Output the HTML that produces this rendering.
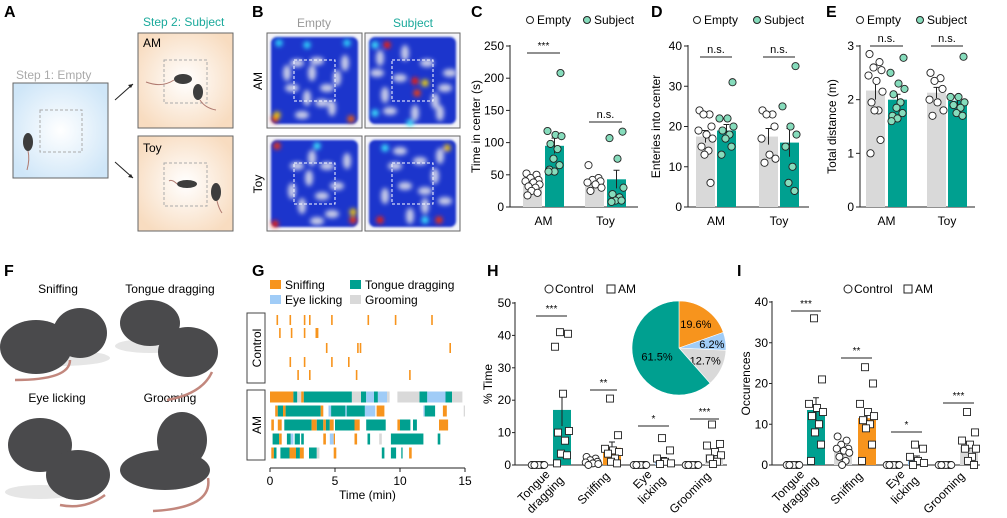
<!DOCTYPE html>
<html><head><meta charset="utf-8"><style>
body{margin:0;background:#fff}
svg{display:block;font-family:"Liberation Sans",Arial,sans-serif}
</style></head><body>
<svg id="fig" width="1007" height="518" viewBox="0 0 1007 518" xmlns="http://www.w3.org/2000/svg">
<defs>
<radialGradient id="gBlue" cx="50%" cy="50%" r="60%"><stop offset="0" stop-color="#ffffff"/><stop offset="1" stop-color="#cfe6f8"/></radialGradient>
<radialGradient id="gBeige" cx="50%" cy="50%" r="60%"><stop offset="0" stop-color="#ffffff"/><stop offset="1" stop-color="#f8dcc0"/></radialGradient>
<filter id="blur3" x="-20%" y="-20%" width="140%" height="140%"><feGaussianBlur stdDeviation="2.5"/></filter>
<filter id="blur1"><feGaussianBlur stdDeviation="1"/></filter>
</defs>
<g font-weight="bold" font-size="16" fill="#000">
<text x="4" y="17">A</text>
<text x="252" y="17">B</text>
<text x="471" y="17">C</text>
<text x="651" y="17">D</text>
<text x="826" y="17">E</text>
<text x="4" y="276">F</text>
<text x="252" y="276">G</text>
<text x="487" y="276">H</text>
<text x="737" y="276">I</text>
</g>
<!-- Panel A -->
<g>
<text x="16" y="79" font-size="12" fill="#aaa">Step 1: Empty</text>
<rect x="13" y="83" width="95" height="95" fill="url(#gBlue)" stroke="#666" stroke-width="1"/>
<rect x="40" y="110" width="42" height="42" fill="none" stroke="#aaa" stroke-dasharray="3,2"/>
<ellipse cx="28" cy="142" rx="5" ry="9" fill="#3d3d3d"/>
<path d="M28 151 q2 8 -1 19" stroke="#b07a70" fill="none" stroke-width="1"/>
<text x="143" y="26" font-size="12" fill="#1aa99b">Step 2: Subject</text>
<rect x="138" y="33" width="95" height="95" fill="url(#gBeige)" stroke="#666"/>
<rect x="164" y="60" width="43" height="43" fill="none" stroke="#aaa" stroke-dasharray="3,2"/>
<text x="143" y="47" font-size="12">AM</text>
<ellipse cx="183" cy="79" rx="9" ry="5" fill="#3d3d3d"/><ellipse cx="198" cy="92" rx="5" ry="8" fill="#3d3d3d"/>
<path d="M174 80 q-12 8 -28 2 M200 100 q5 8 16 10" stroke="#b07a70" fill="none"/>
<rect x="138" y="136" width="95" height="95" fill="url(#gBeige)" stroke="#666"/>
<rect x="164" y="163" width="43" height="43" fill="none" stroke="#aaa" stroke-dasharray="3,2"/>
<text x="143" y="152" font-size="12">Toy</text>
<ellipse cx="187" cy="184" rx="10" ry="4" fill="#3d3d3d"/><ellipse cx="216" cy="192" rx="5" ry="9" fill="#3d3d3d"/>
<path d="M177 184 q-5 -5 -8 -3 M217 201 q2 8 5 12" stroke="#b07a70" fill="none"/>
<path d="M115 100 L133 84" stroke="#222"/><path d="M133 84 l-5 1 l3 3z" fill="#222"/>
<path d="M115 162 L133 178" stroke="#222"/><path d="M133 178 l-5 -1 l3 -3z" fill="#222"/>
</g>
<!-- Panel B -->
<g>
<text x="314" y="27" font-size="12" fill="#999" text-anchor="middle">Empty</text>
<text x="413" y="27" font-size="12" fill="#1aa99b" text-anchor="middle">Subject</text>
<text transform="translate(262,81) rotate(-90)" font-size="12" text-anchor="middle">AM</text>
<text transform="translate(262,184) rotate(-90)" font-size="12" text-anchor="middle">Toy</text>
<g id="heatmaps"></g>
</g>
<!-- Panel F -->
<g font-size="12">
<text x="58" y="293" text-anchor="middle">Sniffing</text>
<text x="170" y="293" text-anchor="middle">Tongue dragging</text>
<text x="57" y="402" text-anchor="middle">Eye licking</text>
<text x="170" y="402" text-anchor="middle">Grooming</text>
<g fill="#e6e6e6"><ellipse cx="60" cy="358" rx="50" ry="8"/><ellipse cx="150" cy="346" rx="35" ry="7"/><ellipse cx="40" cy="492" rx="35" ry="7"/></g>
<g fill="#4a4a4c">
<ellipse cx="80" cy="333" rx="27" ry="25"/>
<ellipse cx="36" cy="347" rx="36" ry="27"/>
<ellipse cx="150" cy="323" rx="30" ry="23"/>
<ellipse cx="188" cy="352" rx="30" ry="25"/>
<ellipse cx="40" cy="445" rx="32" ry="27"/>
<ellipse cx="78" cy="475" rx="32" ry="25"/>
<ellipse cx="182" cy="440" rx="25" ry="28"/>
<ellipse cx="165" cy="470" rx="45" ry="20"/>
</g>
<g stroke="#c2877d" stroke-width="2.5" fill="none">
<path d="M70 360 q0 20 -55 20"/><path d="M212 372 q-10 22 -45 28"/><path d="M105 495 q-20 15 -45 10"/><path d="M208 478 q5 30 -55 33"/>
</g>
</g>
<!-- Charts -->
<g id="charts"></g>
</svg>
<script>
const NS="http://www.w3.org/2000/svg";
const fig=document.getElementById('charts');
function mk(tag,attrs,parent,text){const e=document.createElementNS(NS,tag);for(const k in attrs)e.setAttribute(k,attrs[k]);if(text!==undefined)e.textContent=text;(parent||fig).appendChild(e);return e;}

// ---------- DATA ----------
const cGroups=["AM","Toy"];
const cEmptyMean=[38,40];const cEmptySem=[3,4];
const cSubjMean=[95,43];const cSubjSem=[12,14];
const cEmptyPts=[[52,50,45,42,40,38,35,32,30,25,22,18],[65,45,42,40,38,35,30,25]];
const cSubjPts=[[208,118,112,110,98,90,75,65,58,55,55],[117,107,75,30,20,15,10,10,8]];
const cTicks=[0,50,100,150,200,250];
const dEmptyMean=[17.5,17.5];const dEmptySem=[1.5,2];
const dSubjMean=[19,16];const dSubjSem=[1.5,3.5];
const dEmptyPts=[[24,23,23,20,19,18,17,15,14,13,6],[24,23,23,20,17,13,12,11]];
const dSubjPts=[[31,22,22,20,19,18,17,15,13],[35,25,20,18,15,10,6,4]];
const dTicks=[0,10,20,30,40];
const eEmptyMean=[2.17,2.13];const eEmptySem=[0.17,0.1];
const eSubjMean=[2.0,1.98];const eSubjSem=[0.1,0.1];
const eEmptyPts=[[2.85,2.7,2.6,2.55,2.45,2.35,2.15,1.95,1.8,1.8,1.25,1.0],[2.5,2.4,2.35,2.2,2.0,1.95,1.8,1.7]];
const eSubjPts=[[2.78,2.5,2.3,2.2,2.1,1.95,1.85,1.75,1.7,1.65,1.6],[2.8,2.05,2.05,1.95,1.9,1.85,1.75,1.7]];
const eTicks=[0,1,2,3];
const behaviors=["Tongue dragging","Sniffing","Eye licking","Grooming"];
const hCtrlMean=[0,1,0,0];
const hAmMean=[17,5.3,1.5,3.4];const hAmSem=[5,1.8,0.8,1.2];
const hCtrlPts=[[0,0,0,0,0,0,0,0],[2.5,2,1.5,1,0.8,0.5,0.3,0],[0,0,0,0,0,0,0,0],[0,0,0,0,0,0,0,0]];
const hAmPts=[[41,40.5,36.5,22,10.5,10,7.5,3.5,3,0.5],[20.5,9.2,5,4.5,4,3.5,2,1,0.5],[8.3,4.5,2,1,0.5,0.3],[12.5,6.5,6,4,3,2,1,0.3]];
const hTicks=[0,10,20,30,40,50];
const iCtrlMean=[0,4,0,0];
const iAmMean=[13.5,11.5,1.5,4.5];const iAmSem=[3,2,0.7,1.2];
const iCtrlPts=[[0,0,0,0,0,0,0,0],[7,6,5,4,4,3.5,3,2,1,0],[0,0,0,0,0,0,0,0],[0,0,0,0,0,0,0,0]];
const iAmPts=[[36,21,15,14,13,12,10,8,5,1],[24,20,15,13,12,11,10,9,5,1],[5,4,2,1,0.5,0],[13,8,6,5,4,4,2,1,0]];
const iTicks=[0,10,20,30,40];
const pieLabels=["Sniffing","Eye licking","Grooming","Tongue dragging"];
const pieValues=[19.6,6.2,12.7,61.5];
const gTicks=[0,5,10,15];
const ctrlRows=[[0.5,1.5,2.6,3.0,4.7,7.5,9.6,12.4],[0.7,1.6,2.6,3.5,3.6],[4.3,6.7,6.9,13.8],[1.5,2.6,4.7,6.0],[2.1,3.0,6.6,10.7]];
const amRows=[
[[0,1.8,0],[1.8,2.1,1],[2.1,2.4,3],[2.4,2.6,0],[2.6,6.3,1],[6.3,7.0,3],[7.0,7.4,1],[7.4,8.0,2],[8.0,8.3,1],[8.3,9.0,2],[9.0,9.2,3],[9.8,11.5,3],[11.5,12.1,1],[12.1,13.5,2],[13.5,14.0,1],[14.0,14.8,3]],
[[0.4,0.6,0],[0.6,1.0,1],[1.0,1.2,0],[1.2,3.9,1],[3.9,4.1,0],[4.5,4.7,2],[4.7,5.8,1],[5.8,5.9,2],[5.9,7.3,1],[7.3,8.1,2],[8.2,8.8,0],[11.8,11.9,2],[11.9,12.7,1],[13.3,13.6,0],[14.9,15,3]],
[[0.1,0.3,0],[0.6,0.9,0],[1.1,3.2,1],[3.2,3.6,0],[3.6,4.1,1],[4.1,4.3,0],[4.3,4.6,1],[4.6,4.9,0],[5.0,6.5,1],[6.5,6.9,0],[7.4,8.9,1],[9.8,10.0,0],[10.0,10.8,1],[11.0,11.3,1],[13.0,13.7,0]],
[[0.2,0.7,1],[0.7,0.9,0],[1.3,1.6,1],[1.6,1.8,2],[1.9,2.3,1],[2.4,2.6,1],[4.1,4.3,0],[4.6,4.9,2],[4.9,5.0,0],[6.5,6.7,0],[7.5,7.7,1],[8.4,8.6,3],[9.3,11.8,1],[12.9,13.1,1]],
[[0.1,0.3,0],[0.3,0.5,1],[0.8,1.5,1],[1.5,2.0,0],[2.0,2.3,1],[2.3,2.6,0],[3.0,3.6,1],[3.6,3.8,3],[4.9,5.1,0],[8.6,8.8,1],[9.3,9.7,1],[10.1,10.2,1],[10.7,10.9,0]]
];

const TEAL="#00a090",LGREEN="#86dcbc",ORANGE="#f7941d",LBLUE="#a0ccf7",GRAY="#d9d9d9";
const behavColors=[TEAL,ORANGE,LBLUE,GRAY];
const typeColors=[ORANGE,TEAL,LBLUE,GRAY];
const jit=[-6,4,-2,6,-7,1,7,-4,3,-1,5,-5,0];

function linY(y0,y1,vmax){return v=>y0-(v/vmax)*(y0-y1);}

function barPanel(o){
  const g=mk('g',{},fig);
  
  
  const Y=linY(o.y0,o.y1,o.max);
  mk('line',{x1:o.ax,y1:o.y1-1,x2:o.ax,y2:o.y0,stroke:'#222','stroke-width':1},g);
  mk('line',{x1:o.ax,y1:o.y0,x2:o.axEnd,y2:o.y0,stroke:'#222','stroke-width':1},g);
  o.ticks.forEach(t=>{
    mk('line',{x1:o.ax-4,y1:Y(t),x2:o.ax,y2:Y(t),stroke:'#222'},g);
    const tl=mk('text',{x:o.ax-6,y:Y(t)+4,'text-anchor':'end','font-size':12},g,String(t));
    
    
  });
  const yt=mk('text',{transform:`translate(${o.titleX},${(o.y0+o.y1)/2}) rotate(-90)`,'text-anchor':'middle','font-size':12},g,o.title);
  
  
  o.groups.forEach((gr,i)=>{
    const xe=o.bx[i][0],xs=o.bx[i][1],w=o.bw;
    const b1=mk('rect',{x:xe,y:Y(o.em[i]),width:w,height:o.y0-Y(o.em[i]),fill:GRAY},g);
    
    
    const b2=mk('rect',{x:xs,y:Y(o.sm[i]),width:w,height:o.y0-Y(o.sm[i]),fill:TEAL},g);
    
    
    [[xe,o.em[i],o.es[i]],[xs,o.sm[i],o.ss[i]]].forEach(([x,m,s])=>{
      const cx=x+w/2;
      mk('path',{d:`M${cx} ${Y(m-s)}V${Y(m+s)}M${cx-3} ${Y(m+s)}H${cx+3}`,stroke:'#222',fill:'none'},g);
    });
    o.ep[i].forEach((v,k)=>{const c=mk('circle',{cx:xe+w/2+jit[k%13],cy:Y(v),r:3.6,fill:'#fff',stroke:'#222','stroke-width':0.9},g);
      });
    o.sp[i].forEach((v,k)=>{const c=mk('circle',{cx:xs+w/2+jit[(k+3)%13],cy:Y(v),r:3.6,fill:LGREEN,stroke:'#222','stroke-width':0.9},g);
      });
    const xl=mk('text',{x:(xe+xs+w)/2,y:o.y0+18,'text-anchor':'middle','font-size':12},g,gr);
    
    
    const sig=o.sig[i];
    mk('line',{x1:xe+4,y1:sig[1],x2:xs+w-4,y2:sig[1],stroke:'#222'},g);
    const st=mk('text',{x:(xe+xs+w)/2,y:sig[1]-4,'text-anchor':'middle','font-size':sig[0]==='n.s.'?11:10},g,sig[0]);
    
    
  });
  const lc1=mk('circle',{cx:o.leg[0],cy:20,r:3.5,fill:'#fff',stroke:'#222'},g);
  
  const lt1=mk('text',{x:o.leg[0]+7,y:24,'font-size':12},g,'Empty');
  
  const lc2=mk('circle',{cx:o.leg[1],cy:20,r:3.5,fill:LGREEN,stroke:'#222'},g);
  
  const lt2=mk('text',{x:o.leg[1]+7,y:24,'font-size':12},g,'Subject');
  
}
barPanel({name:'panel-c-time-in-center',ax:510,axEnd:638,y0:207,y1:46,max:250,ticks:cTicks,title:'Time in center (s)',titleX:480,
  groups:cGroups,bx:[[523,545],[585,607]],bw:19,em:cEmptyMean,es:cEmptySem,sm:cSubjMean,ss:cSubjSem,ep:cEmptyPts,sp:cSubjPts,
  sig:[['***',53],['n.s.',122]],leg:[530,587]});
barPanel({name:'panel-d-entries',ax:688,axEnd:809,y0:207,y1:46,max:40,ticks:dTicks,title:'Enteries into center',titleX:660,
  groups:cGroups,bx:[[696,717],[759,780]],bw:19,em:dEmptyMean,es:dEmptySem,sm:dSubjMean,ss:dSubjSem,ep:dEmptyPts,sp:dSubjPts,
  sig:[['n.s.',57],['n.s.',57]],leg:[697,757]});
barPanel({name:'panel-e-distance',ax:860,axEnd:975,y0:207,y1:46,max:3,ticks:eTicks,title:'Total distance (m)',titleX:836,
  groups:cGroups,bx:[[866,888],[927,948]],bw:19,em:eEmptyMean,es:eEmptySem,sm:eSubjMean,ss:eSubjSem,ep:eEmptyPts,sp:eSubjPts,
  sig:[['n.s.',46],['n.s.',46]],leg:[860,920]});

function behavPanel(o){
  const g=mk('g',{},fig);
  
  
  const Y=linY(o.y0,o.y1,o.max);
  mk('line',{x1:o.ax,y1:o.y1-1,x2:o.ax,y2:o.y0,stroke:'#222'},g);
  mk('line',{x1:o.ax,y1:o.y0,x2:o.axEnd,y2:o.y0,stroke:'#222'},g);
  o.ticks.forEach(t=>{
    mk('line',{x1:o.ax-3,y1:Y(t),x2:o.ax,y2:Y(t),stroke:'#222'},g);
    const tl=mk('text',{x:o.ax-4,y:Y(t)+4,'text-anchor':'end','font-size':12},g,String(t));
    
    
  });
  const yt=mk('text',{transform:`translate(${o.titleX},${(o.y0+o.y1)/2}) rotate(-90)`,'text-anchor':'middle','font-size':12},g,o.title);
  
  
  behaviors.forEach((b,i)=>{
    const cx=o.cx[i],bx=o.bx[i],w=o.bw;
    if(o.cm[i]>0){const cb=mk('rect',{x:cx-9,y:Y(o.cm[i]),width:18,height:o.y0-Y(o.cm[i]),fill:GRAY},g);
      }
    const ab=mk('rect',{x:bx,y:Y(o.am[i]),width:w,height:o.y0-Y(o.am[i]),fill:behavColors[i]},g);
    
    
    const m=o.am[i],s=o.as[i],mx=bx+w/2;
    mk('path',{d:`M${mx} ${Y(Math.max(0,m-s))}V${Y(m+s)}M${mx-3} ${Y(m+s)}H${mx+3}`,stroke:'#222',fill:'none'},g);
    o.cp[i].forEach((v,k)=>{const c=mk('circle',{cx:cx+jit[k%13]*0.9,cy:Y(v),r:3.5,fill:'#fff',stroke:'#222','stroke-width':0.9},g);
      });
    o.ap[i].forEach((v,k)=>{const c=mk('rect',{x:mx+jit[(k+2)%13]-3.5,y:Y(v)-3.5,width:7,height:7,fill:'#fff',stroke:'#222','stroke-width':0.9},g);
      });
    const sig=o.sig[i];
    mk('line',{x1:cx-2,y1:sig[1],x2:bx+w-4,y2:sig[1],stroke:'#222'},g);
    const st=mk('text',{x:(cx+bx+w)/2-3,y:sig[1]-4,'text-anchor':'middle','font-size':10},g,sig[0]);
    
    
    const parts=b==='Tongue dragging'?['Tongue','dragging']:b==='Eye licking'?['Eye','licking']:[b];
    const lx=(cx+bx+w)/2+4;
    parts.forEach((p,j)=>{
      const off=parts.length===2?(j===0?-8:6):0;
      const t=mk('text',{transform:`translate(${lx+off},${o.y0+12+(parts.length===2?(j===0?-2:4):0)}) rotate(-45)`,'text-anchor':'end','font-size':12},g,p);
      
      
    });
  });
  const lc=mk('circle',{cx:o.leg[0],cy:289,r:4,fill:'#fff',stroke:'#222'},g);
  
  const lt=mk('text',{x:o.leg[0]+6,y:293,'font-size':12},g,'Control');
  
  const ls=mk('rect',{x:o.leg[1]-4,y:285,width:8,height:8,fill:'#fff',stroke:'#222'},g);
  
  const lt2=mk('text',{x:o.leg[1]+7,y:293,'font-size':12},g,'AM');
  
}
behavPanel({name:'panel-h-percent-time',ax:515,axEnd:727,y0:465,y1:303,max:50,ticks:hTicks,title:'% Time',titleX:492,
  cx:[538,592,640,692],bx:[553,603,655,705],bw:18,cm:hCtrlMean,am:hAmMean,as:hAmSem,cp:hCtrlPts,ap:hAmPts,
  sig:[['***',316],['**',390],['*',426],['***',419]],leg:[549,611]});
behavPanel({name:'panel-i-occurences',ax:772,axEnd:980,y0:465,y1:302,max:40,ticks:iTicks,title:'Occurences',titleX:750,
  cx:[793,843,893,945],bx:[807,858,908,960],bw:18,cm:iCtrlMean,am:iAmMean,as:iAmSem,cp:iCtrlPts,ap:iAmPts,
  sig:[['***',311],['**',358],['*',432],['***',403]],leg:[848,908]});

(function(){
  const g=mk('g',{},fig);
  
  
  const cx=679,cy=348,r=47;const tot=pieValues.reduce((a,b)=>a+b,0);
  const cols=[ORANGE,LBLUE,GRAY,TEAL];
  let a0=-Math.PI/2;
  pieValues.forEach((v,i)=>{
    const a1=a0+v/tot*2*Math.PI;const large=(a1-a0)>Math.PI?1:0;
    const p=mk('path',{d:`M${cx} ${cy}L${cx+r*Math.cos(a0)} ${cy+r*Math.sin(a0)}A${r} ${r} 0 ${large} 1 ${cx+r*Math.cos(a1)} ${cy+r*Math.sin(a1)}Z`,fill:cols[i],stroke:'#fff','stroke-width':0.6},g);
    
    
    const am=(a0+a1)/2;const rr=i===3?r*0.5:r*0.62;
    const t=mk('text',{x:cx+rr*Math.cos(am)+(i===1?4:0),y:cy+rr*Math.sin(am)+4,'text-anchor':'middle','font-size':11},g,v.toFixed(1)+'%');
    
    
    a0=a1;
  });
})();

(function(){
  const g=mk('g',{},fig);
  
  
  const X=t=>270+t/15*195;
  mk('line',{x1:270,y1:468,x2:465,y2:468,stroke:'#222'},g);
  gTicks.forEach(t=>{mk('line',{x1:X(t),y1:468,x2:X(t),y2:472,stroke:'#222'},g);
    const tl=mk('text',{x:X(t),y:485,'text-anchor':'middle','font-size':12},g,String(t));
    });
  const xt=mk('text',{x:X(7.5),y:499,'text-anchor':'middle','font-size':12},g,'Time (min)');
  
  const ctrlY=[320,333,348,362,375];
  ctrlRows.forEach((row,ri)=>row.forEach(t=>{
    const r=mk('rect',{x:X(t),y:ctrlY[ri]-5,width:1.6,height:10,fill:ORANGE},g);
    
  }));
  const amY=[397,411,425,439,453];
  const names=['sniffing','tongue-dragging','eye-licking','grooming'];
  amRows.forEach((row,ri)=>row.forEach(([s,e,ty])=>{
    const r=mk('rect',{x:X(s),y:amY[ri]-5.5,width:Math.max(1.2,X(e)-X(s)),height:11,fill:typeColors[ty]},g);
    
  }));
  const b1=mk('rect',{x:247,y:313,width:18,height:70,fill:'none',stroke:'#444'},g);
  
  const t1=mk('text',{transform:'translate(261,348) rotate(-90)','text-anchor':'middle','font-size':12},g,'Control');
  
  const b2=mk('rect',{x:247,y:390,width:18,height:70,fill:'none',stroke:'#444'},g);
  
  const t2=mk('text',{transform:'translate(261,425) rotate(-90)','text-anchor':'middle','font-size':12},g,'AM');
  
  const leg=[[270,289,ORANGE,'Sniffing'],[350,289,TEAL,'Tongue dragging'],[270,304,LBLUE,'Eye licking'],[350,304,GRAY,'Grooming']];
  leg.forEach(([x,y,c,l])=>{
    const s=mk('rect',{x:x,y:y-9,width:11,height:9,fill:c},g);
    
    const t=mk('text',{x:x+15,y:y,'font-size':12},g,l);
    
  });
})();

(function(){
  const hm=document.getElementById('heatmaps');
  const boxes=[[267,33],[365,33],[267,136],[365,136]];
  const names=['heatmap-am-empty','heatmap-am-subject','heatmap-toy-empty','heatmap-toy-subject'];
  const whites=[
    [[30,30],[45,40],[60,55],[40,65],[50,28],[70,45],[25,55],[65,75],[35,82],[78,30],[55,70],[20,40]],
    [[12,40],[20,62],[25,78],[75,80],[80,55],[40,20],[62,30],[15,25],[35,45],[70,68],[85,40],[50,80]],
    [[30,30],[42,42],[55,60],[35,70],[60,30],[45,22],[70,50],[25,55],[65,78],[80,25],[50,85]],
    [[40,50],[60,70],[30,30],[70,40],[55,25],[20,60],[80,65],[45,80],[35,15],[75,20],[60,55]]];
  const hots=[[[8,86,'#ff2000'],[84,86,'#ff6000'],[12,10,'#30e0ff'],[40,12,'#30e0ff'],[80,10,'#30e0ff'],[10,82,'#ffd000']],
              [[22,12,'#ff2000'],[10,12,'#40f0ff'],[50,48,'#ff2000'],[52,60,'#ff4000'],[60,50,'#ffe000'],[45,90,'#40f0ff'],[10,80,'#40f0ff']],
              [[10,10,'#ff3000'],[8,88,'#ff2000'],[86,84,'#ff3000'],[86,76,'#ffd000'],[50,10,'#40f0ff']],
              [[15,84,'#ff2000'],[74,84,'#ff3000'],[82,12,'#ffd000'],[60,84,'#40f0ff'],[20,12,'#40f0ff']]];
  boxes.forEach(([x,y],i)=>{
    const g=mk('g',{},hm);
    
    
    mk('rect',{x:x,y:y,width:95,height:95,fill:'#f4f4f8'},g);
    mk('rect',{x:x+4,y:y+4,width:87,height:87,fill:'#1a34cc',rx:6,filter:'url(#blur1)'},g);
    const wg=mk('g',{filter:'url(#blur3)'},g);
    whites[i].forEach(([a,b],k)=>mk('ellipse',{cx:x+a,cy:y+b,rx:k%2?4:7,ry:k%2?8:4,fill:'#c8cce8'},wg));
    hots[i].forEach(([a,b,c])=>mk('circle',{cx:x+a,cy:y+b,r:3.5,fill:c},wg));
    mk('rect',{x:x+27,y:y+27,width:41,height:41,fill:'none',stroke:'#fff','stroke-dasharray':'3,2'},g);
    mk('rect',{x:x,y:y,width:95,height:95,fill:'none',stroke:'#666'},g);
  });
})();
</script>
</body></html>
